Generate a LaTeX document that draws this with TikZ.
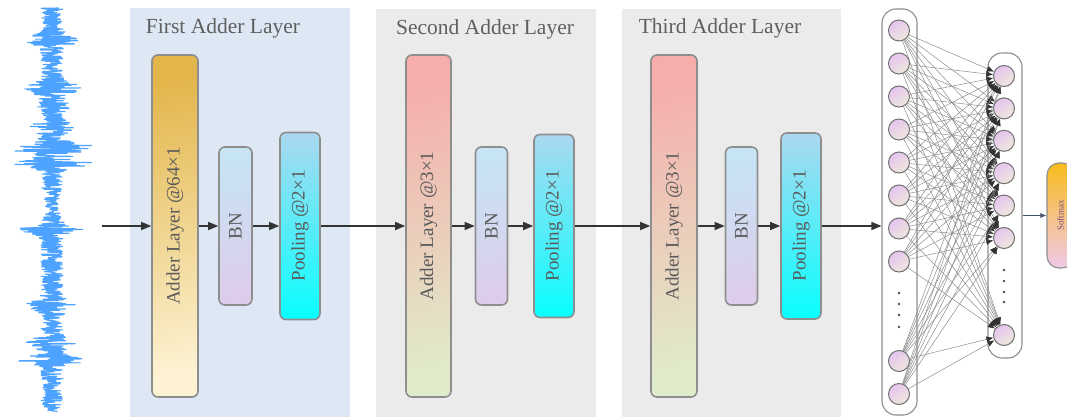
\documentclass[tikz,border=0pt]{standalone}
\usepackage{fontspec}
\setmainfont{Liberation Serif}
\usetikzlibrary{arrows.meta}

\definecolor{wavec}{RGB}{77,163,255}
\definecolor{panelblue}{HTML}{DEE8F4}
\definecolor{panelgray}{HTML}{EBEBEB}
\definecolor{titletxt}{HTML}{5F5F5F}
\definecolor{boxtxt}{HTML}{5A5A5A}
\definecolor{boxline}{HTML}{8E8E8E}
\definecolor{goldtop}{HTML}{E3B64B}
\definecolor{goldbot}{HTML}{FDF2D3}
\definecolor{pinktop}{HTML}{F6ADAB}
\definecolor{greenbot}{HTML}{E0EBCB}
\definecolor{bntop}{HTML}{C6E4F4}
\definecolor{bnbot}{HTML}{DDCDEA}
\definecolor{pooltop}{HTML}{ABD8F0}
\definecolor{poolbot}{HTML}{08FFFF}
\definecolor{neurtop}{HTML}{E4C4EE}
\definecolor{neurbot}{HTML}{EFE8DC}
\definecolor{neurline}{HTML}{707070}
\definecolor{smtop}{HTML}{F9BC1C}
\definecolor{smbot}{HTML}{EFC9E9}
\definecolor{smarrow}{HTML}{44546A}

\begin{document}
\begin{tikzpicture}[x=1pt,y=-1pt,
  declare function={
    gm(\t,\c,\w)=min(abs(\t-\c)/\w,3);
    g(\t,\c,\w)=exp(0-gm(\t,\c,\w)*gm(\t,\c,\w));
    env(\t)=11+18*g(\t,40,6)+21*g(\t,88,6)+9*g(\t,106,5)+13*g(\t,127,6)
            +34*g(\t,148,6)+32*g(\t,163,5)+24*g(\t,230,5)+16*g(\t,305,6)
            +19*g(\t,343,5)+25*g(\t,360,5)-4*g(\t,205,12)-4*g(\t,410,6);
  },
  paneltitle/.style={anchor=base, text=titletxt, font=\fontsize{21.5}{21.5}\selectfont},
  layerbox/.style={draw=boxline, line width=1.6pt, rounded corners=6pt, inner sep=0pt,
    text=boxtxt, font=\fontsize{19}{19}\selectfont},
  adderA/.style={layerbox, top color=goldtop, bottom color=goldbot, shading angle=12},
  adderB/.style={layerbox, top color=pinktop, bottom color=greenbot, shading angle=12},
  bnbox/.style={layerbox, top color=bntop, bottom color=bnbot, shading angle=12},
  poolbox/.style={layerbox, top color=pooltop, bottom color=poolbot},
  flow/.style={draw=black!80, line width=1.1pt, -{Triangle[length=10pt,width=8pt]}},
  column/.style={draw=boxline, line width=1.1pt, fill=white, rounded corners=14pt, inner sep=0pt},
  neuron/.style={circle, draw=neurline, line width=1pt, minimum size=21pt, inner sep=0pt,
    top color=neurtop, bottom color=neurbot, shading angle=35},
  link/.style={draw=black!45, line width=0.5pt, -{Latex[length=7pt,width=6pt,color=black!80]}},
  vdot/.style={fill=black!70},
]
\path[use as bounding box] (0,0) rectangle (1067,417);
\clip (0,0) rectangle (1067,417);

% input signal
\pgfmathsetseed{4217}
\draw[wavec, line width=1.1pt, line join=round]
  plot[domain=8:412, samples=1300, variable=\t] ({52+rand*env(\t)}, {\t});
\coordinate (sig) at (102,226);

% layer panels
\fill[panelblue] (130,8) rectangle (350,420);
\fill[panelgray] (376,9) rectangle (596,420);
\fill[panelgray] (622,9) rectangle (841,420);
\node[paneltitle] (t1) at (223,34) {First Adder Layer};
\node[paneltitle] (t2) at (485,35) {Second Adder Layer};
\node[paneltitle] (t3) at (720,34) {Third Adder Layer};

% first adder layer
\node[adderA, minimum width=46pt, minimum height=342pt] (a1) at (175,226) {\rotatebox{90}{Adder Layer @64×1}};
\node[bnbox, minimum width=33pt, minimum height=158pt] (b1) at (235.5,226) {\rotatebox{90}{BN}};
\node[poolbox, minimum width=40pt, minimum height=187pt] (p1) at (300,226) {\rotatebox{90}{Pooling @2×1}};

% second adder layer
\node[adderB, minimum width=45pt, minimum height=342pt] (a2) at (428.5,226) {\rotatebox{90}{Adder Layer @3×1}};
\node[bnbox, minimum width=32pt, minimum height=158pt] (b2) at (491.5,226) {\rotatebox{90}{BN}};
\node[poolbox, minimum width=40pt, minimum height=183pt] (p2) at (554,226) {\rotatebox{90}{Pooling @2×1}};

% third adder layer
\node[adderB, minimum width=46pt, minimum height=342pt] (a3) at (674,226) {\rotatebox{90}{Adder Layer @3×1}};
\node[bnbox, minimum width=32pt, minimum height=158pt] (b3) at (741.5,226) {\rotatebox{90}{BN}};
\node[poolbox, minimum width=40pt, minimum height=186pt] (p3) at (801,226) {\rotatebox{90}{Pooling @2×1}};

% fully connected part
\node[column, minimum width=35pt, minimum height=406pt] (lc) at (899.5,212) {};
\node[column, minimum width=34pt, minimum height=305pt] (rc) at (1005,205.5) {};

\foreach \i in {1,...,8}
  \node[neuron] (l\i) at (899,{30.5+33*(\i-1)}) {};
\node[neuron] (l9) at (899,361) {};
\node[neuron] (l10) at (899,394) {};

\foreach \i in {1,...,6}
  \node[neuron] (r\i) at (1004,{76+32.4*(\i-1)}) {};
\node[neuron] (r7) at (1004,335) {};

\foreach \y in {293,304,315,327} \fill[vdot] (899,\y) circle (1.4pt);
\foreach \y in {270,281,292,302} \fill[vdot] (1004,\y) circle (1.4pt);

\foreach \i in {1,...,10}
  \foreach \j in {1,...,7}
    \draw[link] (l\i) -- (r\j);

% softmax output
\node[draw=boxline, line width=1.1pt, rounded corners=12pt, inner sep=0pt,
      top color=smtop, bottom color=smbot, minimum width=27pt, minimum height=105pt,
      text=boxtxt!80!magenta, font=\fontsize{9}{9}\selectfont] (sm) at (1060.5,215.5)
      {\rotatebox{90}{Softmax}};

% data flow
\draw[flow] (sig) -- (a1);
\draw[flow] (a1) -- (b1);
\draw[flow] (b1) -- (p1);
\draw[flow] (p1) -- (a2);
\draw[flow] (a2) -- (b2);
\draw[flow] (b2) -- (p2);
\draw[flow] (p2) -- (a3);
\draw[flow] (a3) -- (b3);
\draw[flow] (b3) -- (p3);
\draw[flow] (p3.east) -- (p3.east -| lc.west);
\draw[smarrow, line width=0.8pt, -{Latex[length=6pt,width=5pt]}] (rc.east |- sm.west) -- (sm.west);
\end{tikzpicture}
\end{document}
